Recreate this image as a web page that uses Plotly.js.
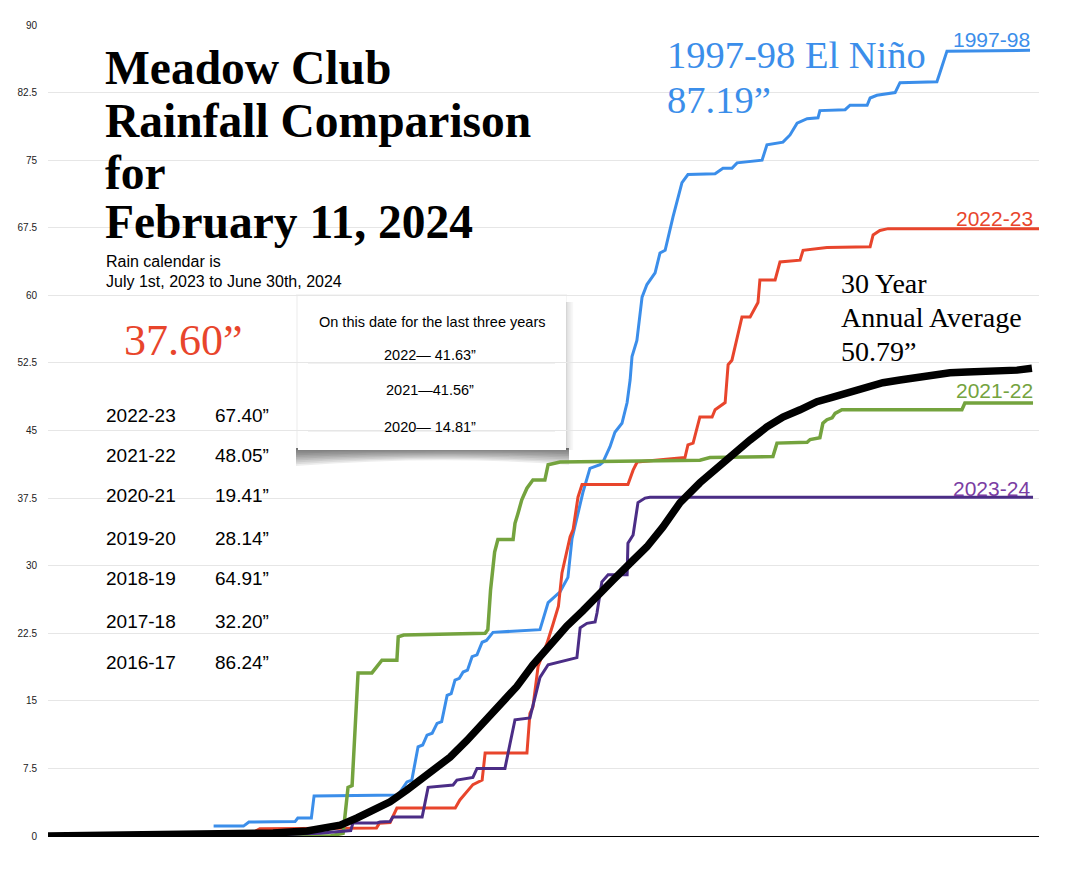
<!DOCTYPE html>
<html><head><meta charset="utf-8">
<script src="https://cdn.plot.ly/plotly-3.0.1.min.js"></script>
<style>html,body{margin:0;padding:0;background:#fff}#chart{width:1081px;height:869px}</style>
</head><body><div id="chart"></div>
<script>
// x = day of the rain year (0 = July 1), y = cumulative rainfall (inches)
const days9798 = [61,72,74,91,92,97,98,128.9,132.2,134,136.3,138,139.6,141.5,143.3,145,147,148.5,149.9,151.5,152.9,154.5,156.2,158,159.9,161.5,163.9,181.2,184.2,186,188.6,191.5,193,195.2,197,199.6,203.3,204.4,207,208.8,211.4,213.3,214.4,215.1,216.9,218.8,220.6,223.6,225.4,227.3,228.4,230.2,233.5,235.7,245.7,246.8,248.6,251.9,253.8,263,264.8,270.7,273.3,275.9,279.6,283.6,284.3,293.6,295.4,301.7,302.8,305.3,312,313.8,327.4,328.5,331.1,361.7];
const rain9798 = [1.1,1.1,1.55,1.6,2.0,2.0,4.45,4.55,6.0,6.2,9.9,10.1,11.2,11.4,12.5,12.7,15.6,15.8,17.3,17.5,18.2,18.4,19.9,20.1,21.5,21.7,22.6,22.9,25.9,26.4,27.1,28.7,33.0,35.8,38.1,40.8,41.2,41.5,43.2,44.8,45.8,48.1,50.6,53.2,55.0,59.8,61.2,62.5,64.7,65.0,66.5,68.7,72.5,73.4,73.5,73.7,74.1,74.1,74.7,75.0,76.7,77.0,77.8,79.1,79.6,79.7,80.5,80.6,81.1,81.1,81.9,82.2,82.5,83.6,83.7,84.7,87.1,87.19];

const days2223 = [0,75,78,121,122,126,128.5,150,151.7,154.3,156.5,159.9,161,176.4,177.5,178.6,180.5,182,183.8,186,188,189.3,192.3,193.4,195.2,196.7,213.6,215.5,217,234.6,235.7,237.6,240.1,244.6,245.7,249.4,250.5,251.9,255.6,258.6,261.5,262.2,267.8,269.6,277,278.1,286.9,302.8,303.9,306.4,309.4,365];
const rain2223 = [0,0.3,0.8,0.9,1.4,1.5,3.1,3.1,4.0,4.9,5.7,6.2,9.2,9.2,13.6,14.3,18.8,20.0,21.4,23.5,25.5,29.2,33.2,34.0,37.6,39.0,39.0,40.6,41.5,42.0,43.4,43.6,46.5,46.5,47.3,48.1,52.3,52.8,57.6,57.6,59.2,61.7,61.7,63.7,63.9,65.0,65.3,65.4,66.7,67.2,67.4,67.4];

const days2122 = [0,104,108.7,110.5,112,114.2,119.3,121.5,123,128.5,129,131,161,162,163,164.5,165.7,171.3,172,173.1,174.5,176.4,178.6,183,184.2,188.6,240.1,243.8,267,268.5,279.6,280.7,284.3,285.4,286.9,288.8,289.9,292.4,336.6,337.7,362.8];
const rain2122 = [0,0,0.3,5.4,5.6,18.1,18.1,19.0,19.5,19.5,22.1,22.3,22.5,22.9,27.3,31.5,32.9,32.9,34.7,35.8,37.3,38.6,39.5,39.5,41.2,41.5,41.7,42.0,42.1,43.6,43.7,44.0,44.2,45.8,46.2,46.4,46.9,47.3,47.3,48.05,48.05];

const days2324 = [36,80,100,111.5,112.3,121.2,122.3,126,127,137.8,140,149.2,150.6,156.5,158,168.3,170.2,172,177.5,178.6,181.2,184.2,188.6,194.8,196,198.5,201.5,202.2,204,206.3,213.3,213.6,215.5,217.3,219.9,221.7,362.8];
const rain2324 = [0,0.1,0.3,0.6,1.44,1.44,1.55,1.6,2.1,2.1,5.4,5.66,6.2,6.5,7.5,7.5,10.3,12.9,13.1,14.5,17.6,19.0,19.3,19.8,23.1,23.6,23.75,24.75,28.2,29.0,29.0,32.5,33.4,37.0,37.5,37.6,37.6];

const daysAvg = [0,58.6,82.9,95.4,101.3,107.6,113.8,119.7,126,132.2,138.1,144.4,148.1,154.3,160.2,166.5,172.7,178.6,184.9,191.1,197,203.3,208.1,215.5,220.6,226.5,232.8,240.1,246.4,252.3,258.6,264.8,270.7,277,283.2,289.1,295.4,301.7,307.5,313.8,320,326,332.2,338.5,344.4,350.6,356.9,362.4];
const rainAvg = [0,0.1,0.33,0.55,0.9,1.2,2.0,2.9,3.8,5.1,6.5,8.1,8.75,10.6,12.5,14.6,16.6,19.0,21.2,23.3,25.0,26.8,28.4,30.6,32.1,34.3,37.0,39.2,40.8,42.5,43.95,45.4,46.5,47.3,48.2,48.7,49.3,49.8,50.3,50.6,50.9,51.3,51.4,51.5,51.5,51.6,51.7,51.9];

const yTickVals = [0,7.5,15,22.5,30,37.5,45,52.5,60,67.5,75,82.5,90];
const yTickText = ['0','7.5','15','22.5','30','37.5','45','52.5','60','67.5','75','82.5','90'];

const titleLines = ['Meadow Club','Rainfall Comparison','for','February 11, 2024'];
const subtitleLines = ['Rain calendar is','July 1st, 2023 to June 30th, 2024'];
const seasonLabels = ['2022-23','2021-22','2020-21','2019-20','2018-19','2017-18','2016-17'];
const seasonTotals = ['67.40”','48.05”','19.41”','28.14”','64.91”','32.20”','86.24”'];
const boxLines = ['2022— 41.63”','2021—41.56”','2020— 14.81”'];

const BLUE='#3b8eea', RED='#e8452c', GREEN='#74a33e', PURPLE='#4b2d86';
const SERIF='"Liberation Serif", "DejaVu Serif", serif';
const SANS='"Liberation Sans", Arial, sans-serif';

const traces = [
  {x:days9798, y:rain9798, name:'1997-98', mode:'lines', line:{color:BLUE,width:3}},
  {x:days2223, y:rain2223, name:'2022-23', mode:'lines', line:{color:RED,width:3}},
  {x:days2122, y:rain2122, name:'2021-22', mode:'lines', line:{color:GREEN,width:3.5}},
  {x:days2324, y:rain2324, name:'2023-24', mode:'lines', line:{color:PURPLE,width:3}},
  {x:daysAvg, y:rainAvg, name:'30 Year Average', mode:'lines', line:{color:'#000',width:7.5}}
];

// pixel helpers for layout placement
const L=48, R=1039, T=25, B=836;
const px = x => (x-L)/(R-L);
const py = y => (B-y)/(B-T);
function A(text, x, y, size, color, family, xanchor, extra){
  return Object.assign({text:text, xref:'paper', yref:'paper', x:px(x), y:py(y), showarrow:false,
    xanchor:xanchor||'left', yanchor:'middle', font:{size:size, color:color, family:family}}, extra||{});
}
const ann = [];
const titleY=[68,121,173,222];
titleLines.forEach((t,i)=>ann.push(A('<b>'+t+'</b>',103,titleY[i],47.5,'#000',SERIF)));
ann.push(A(subtitleLines[0],104,261,16,'#000',SANS));
ann.push(A(subtitleLines[1],104,281,16,'#000',SANS));
ann.push(A('37.60”',122,340,44,RED,SERIF));
const listY=[416,455,496,538,578,621,662];
seasonLabels.forEach((s,i)=>{
  ann.push(A(s,104,listY[i],19,'#000',SANS));
  ann.push(A(seasonTotals[i],213,listY[i],19,'#000',SANS));
});
ann.push(A('On this date for the last three years',432,322,14.5,'#000',SANS,'center'));
const boxY=[355,390,427];
boxLines.forEach((t,i)=>ann.push(A(t,430,boxY[i],14.5,'#000',SANS,'center')));
ann.push(A('1997-98 El Niño',665,55,38.5,BLUE,SERIF));
ann.push(A('87.19”',665,100,38.5,BLUE,SERIF));
ann.push(A('30 Year',839,283,28,'#000',SERIF));
ann.push(A('Annual Average',839,317,28,'#000',SERIF));
ann.push(A('50.79”',839,351,28,'#000',SERIF));
ann.push(A('1997-98',1032,39,21,BLUE,SANS,'right'));
ann.push(A('2022-23',1035,218,21,RED,SANS,'right'));
ann.push(A('2021-22',1035,390,21,GREEN,SANS,'right'));
ann.push(A('2023-24',1032,488,21,'#7a3da3',SANS,'right'));

const X = x=>px(x), Y = y=>py(y);
const shapes = [];
// soft page-curl shadow under the box, built from thin translucent layers
for(let k=1;k<=10;k++){
  const endDepth = 448 + 1.8*k, midDepth = 448 + 0.7*k;
  shapes.push({type:'path', xref:'paper', yref:'paper', layer:'between', line:{width:0}, fillcolor:'rgba(0,0,0,0.07)',
    path:`M ${X(296)},${Y(448)} L ${X(569)},${Y(448)} L ${X(569)},${Y(endDepth-1)} Q ${X(440)},${Y(midDepth)} ${X(296)},${Y(endDepth)} Z`});
}
for(let k=1;k<=4;k++){
  shapes.push({type:'rect', xref:'paper', yref:'paper', layer:'between', line:{width:0}, fillcolor:'rgba(0,0,0,0.03)',
    x0:X(566), x1:X(566+1.8*k), y0:Y(302), y1:Y(450)});
}
shapes.push({type:'rect', xref:'paper', yref:'paper', layer:'between', line:{width:0}, fillcolor:'rgba(0,0,0,0.04)',
   x0:X(296), x1:X(567), y0:Y(294), y1:Y(450)});
shapes.push({type:'rect', xref:'paper', yref:'paper', layer:'between', line:{width:0}, fillcolor:'#ffffff',
   x0:X(298), x1:X(566), y0:Y(296), y1:Y(450)});
[363,431].forEach(v=>shapes.push({type:'line', xref:'paper', yref:'paper', layer:'between', line:{width:1,color:'#e4e4e4'},
   x0:X(308), x1:X(555), y0:Y(v), y1:Y(v)}));

const layout = {
  width:1081, height:869,
  margin:{l:L, r:1081-R, t:T, b:869-B, pad:0},
  paper_bgcolor:'#fff', plot_bgcolor:'#fff',
  showlegend:false,
  xaxis:{range:[0,365], showgrid:false, zeroline:false, showticklabels:false, ticks:'',
         showline:true, linecolor:'#000', linewidth:1, fixedrange:true},
  yaxis:{range:[0,90], tickvals:yTickVals, ticktext:yTickText, showgrid:true, gridcolor:'#e6e6e6', gridwidth:1,
         zeroline:false, showline:false, ticks:'', ticklabelstandoff:10,
         tickfont:{size:10, color:'#222', family:SANS}, fixedrange:true},
  annotations:ann,
  shapes:shapes
};
Plotly.newPlot('chart', traces, layout, {displayModeBar:false, staticPlot:true});
</script>
</body></html>
